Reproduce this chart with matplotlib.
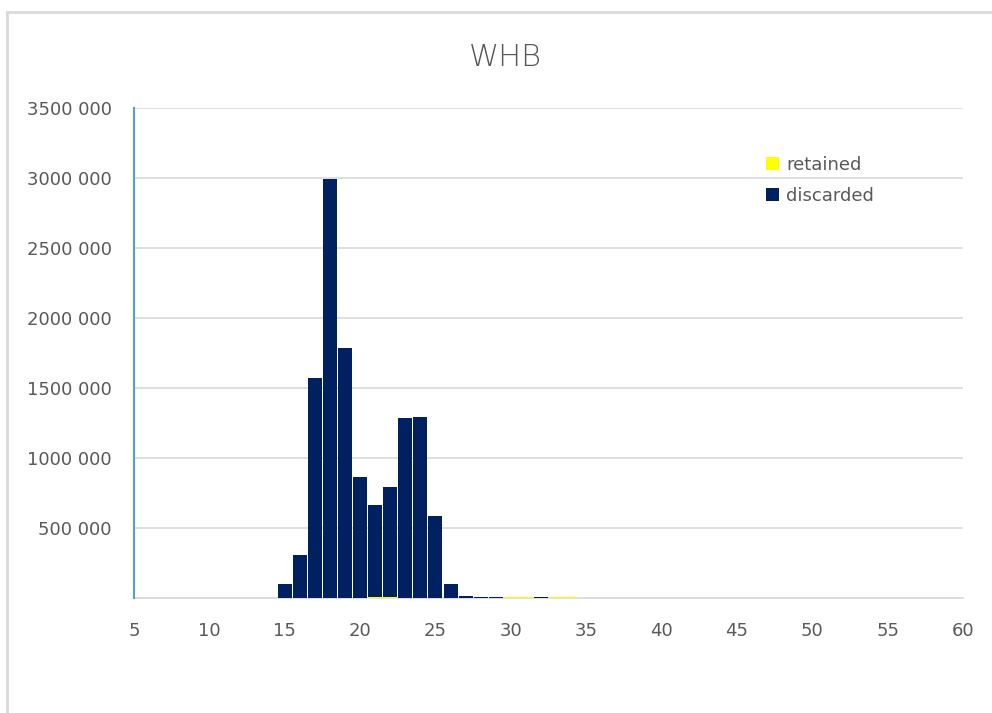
import matplotlib
matplotlib.use("Agg")
import matplotlib.pyplot as plt
from matplotlib.lines import Line2D

# length classes (cm) and numbers per class
lengths = [15, 16, 17, 18, 19, 20, 21, 22, 23, 24, 25, 26, 27, 28, 29, 30, 31, 32, 33, 34]
retained = [0, 0, 0, 0, 0, 0, 10000, 10000, 0, 0, 0, 0, 0, 0, 0, 9000, 9000, 0, 9000, 9000]
discarded = [100000, 307000, 1572000, 2993000, 1787000, 865000, 652000, 780000,
             1287000, 1295000, 586000, 100000, 12000, 7000, 7000, 0, 0, 7000, 0, 0]

x_ticks = [5, 10, 15, 20, 25, 30, 35, 40, 45, 50, 55, 60]
y_ticks = [0, 500000, 1000000, 1500000, 2000000, 2500000, 3000000, 3500000]
y_labels = ['', '500 000', '1000 000', '1500 000', '2000 000', '2500 000', '3000 000', '3500 000']

text_col = '#595959'
grid_col = '#D9D9D9'

plt.rcParams['font.family'] = ['DejaVu Sans']

fig = plt.figure(figsize=(9.92, 7.13), dpi=100)
W, H = 992, 713
ax = fig.add_axes([134 / W, (H - 598) / H, (963 - 134) / W, (598 - 108) / H])

# chart border: only the left and top edges fall inside the picture
fig.add_artist(Line2D([7 / W, 7 / W], [0, (H - 12) / H], transform=fig.transFigure,
                      color=grid_col, linewidth=2))
fig.add_artist(Line2D([7 / W, 1], [(H - 12) / H, (H - 12) / H], transform=fig.transFigure,
                      color=grid_col, linewidth=2))

ax.bar(lengths, retained, width=0.93, color='#FFFF00', label='retained', zorder=3)
ax.bar(lengths, discarded, width=0.93, bottom=retained, color='#002060', label='discarded', zorder=3)

ax.set_xlim(5, 60)
ax.set_ylim(0, 3500000)
ax.set_xticks(x_ticks)
ax.set_xticklabels([str(v) for v in x_ticks])
ax.set_xticks([10, 20, 30, 40, 50, 60], minor=True)
ax.set_yticks(y_ticks)
ax.set_yticklabels(y_labels)

ax.tick_params(axis='x', which='major', length=0, pad=17, labelsize=13, labelcolor=text_col)
ax.tick_params(axis='x', which='minor', length=5, width=1.2, color=grid_col, direction='out')
ax.tick_params(axis='y', length=0, pad=16, labelsize=13, labelcolor=text_col)

ax.grid(axis='y', color=grid_col, linewidth=1.2, zorder=0)
for s in ['top', 'right']:
    ax.spines[s].set_visible(False)
ax.spines['bottom'].set_color(grid_col)
ax.spines['bottom'].set_linewidth(1.2)
ax.spines['left'].set_color('#5B9BD5')
ax.spines['left'].set_linewidth(1.5)
ax.spines['left'].set_zorder(4)

fig.text(505 / W, (H - 57) / H, 'WHB', ha='center', va='center', fontsize=22,
         color=text_col, fontweight='light')

ax.legend(loc='upper left', bbox_to_anchor=(766 / W, (H - 156) / H), bbox_transform=fig.transFigure,
          frameon=False, fontsize=13, labelcolor=text_col, handlelength=0.72, handleheight=0.72,
          handletextpad=0.4, labelspacing=0.7, borderpad=0, borderaxespad=0)

fig.savefig('out.png', dpi=100)
